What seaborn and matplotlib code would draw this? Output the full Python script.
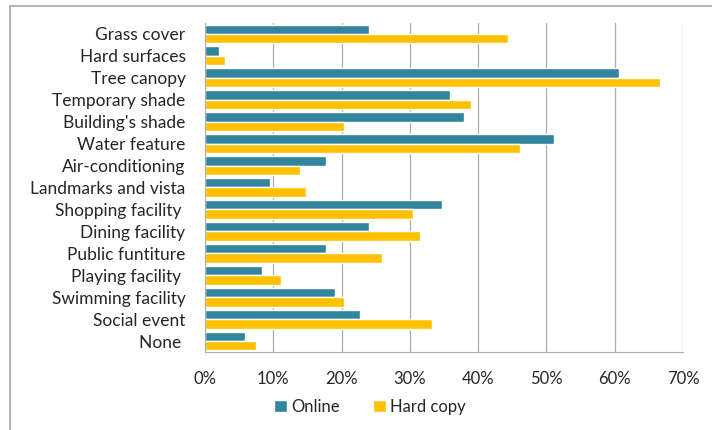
import pandas as pd
import matplotlib.pyplot as plt
import seaborn as sns
from matplotlib.patches import Rectangle
from matplotlib.ticker import PercentFormatter

# values (percent)
categories = ["Grass cover", "Hard surfaces", "Tree canopy", "Temporary shade",
              "Building's shade", "Water feature", "Air-conditioning",
              "Landmarks and vista", "Shopping facility ", "Dining facility",
              "Public funtiture", "Playing facility ", "Swimming facility",
              "Social event", "None "]
online = [24.0, 2.0, 60.6, 35.9, 37.9, 51.1, 17.7, 9.5, 34.7, 24.0, 17.7, 8.3, 19.0, 22.7, 5.8]
hard_copy = [44.4, 2.9, 66.7, 38.9, 20.4, 46.2, 13.9, 14.8, 30.5, 31.5, 25.9, 11.1, 20.4, 33.3, 7.5]
series = ["Online", "Hard copy"]
colors = ["#31859C", "#FFC000"]

df = pd.DataFrame({
    "category": categories * 2,
    "value": online + hard_copy,
    "series": [series[0]] * len(categories) + [series[1]] * len(categories),
})

sns.set_style("white")
plt.rcParams["font.family"] = ["Lato", "DejaVu Sans"]

fig = plt.figure(figsize=(7.12, 4.30), dpi=100)
ax = fig.add_axes([205 / 712, 1 - 352 / 430, 478 / 712, 329 / 430])

sns.barplot(data=df, y="category", x="value", hue="series", orient="h",
            palette=colors, width=0.86, saturation=1, ax=ax, legend=True)

ax.set_xlim(0, 70)
ax.set_xticks(range(0, 71, 10))
ax.xaxis.set_major_formatter(PercentFormatter(decimals=0))
ax.set_ylim(len(categories) - 0.5, -0.5)
ax.set_xlabel("")
ax.set_ylabel("")

grid_col = "#ADADAD"
ax.grid(axis="x", color=grid_col, linewidth=0.9)
ax.set_axisbelow(True)
for side in ["top", "right"]:
    ax.spines[side].set_visible(False)
ax.spines["left"].set_color(grid_col)
ax.spines["bottom"].set_color(grid_col)

# ticks between categories on the y axis
ax.set_yticks([i - 0.5 for i in range(len(categories) + 1)], minor=True)
ax.tick_params(axis="y", which="minor", length=8, direction="inout", color=grid_col, width=1)
ax.tick_params(axis="y", which="major", length=0, pad=14, labelsize=12.5, labelcolor="#262626")
ax.tick_params(axis="x", length=4, direction="in", color=grid_col, pad=14, labelsize=12,
               labelcolor="#262626")

handles, labels = ax.get_legend_handles_labels()
ax.get_legend().remove()
fig.legend(handles, labels, loc="center", bbox_to_anchor=(370 / 712, 1 - 407 / 430),
           ncol=2, frameon=False, fontsize=12, handlelength=0.75, handleheight=0.75,
           handletextpad=0.25, columnspacing=2.0, labelcolor="#262626")

# outer frame of the chart area
fig.patches.append(Rectangle((10 / 712, -0.1), 1.2, 1.1 - 6.5 / 430, transform=fig.transFigure,
                             fill=False, edgecolor="#A6A6A6", linewidth=1.2))

fig.savefig("out.png", dpi=100)
